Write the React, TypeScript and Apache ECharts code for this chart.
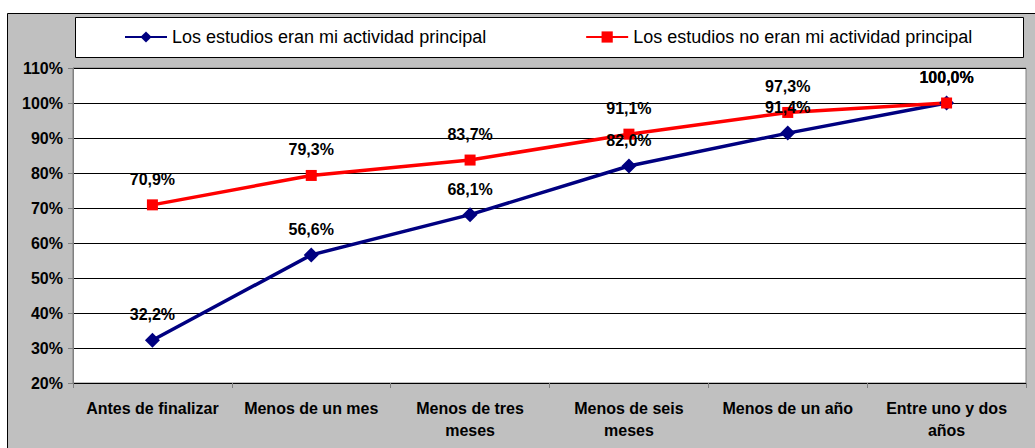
import React, { useEffect, useRef } from "react";
import * as echarts from "echarts";

const categories = [
  "Antes de finalizar",
  "Menos de un mes",
  "Menos de tres\nmeses",
  "Menos de seis\nmeses",
  "Menos de un año",
  "Entre uno y dos\naños",
];
const seriesNames = [
  "Los estudios eran mi actividad principal",
  "Los estudios no eran mi actividad principal",
];
const principal = [32.2, 56.6, 68.1, 82.0, 91.4, 100.0];
const noPrincipal = [70.9, 79.3, 83.7, 91.1, 97.3, 100.0];

const fmt = (v: number) => v.toFixed(1).replace(".", ",") + "%";

export default function App() {
  const ref = useRef<HTMLDivElement>(null);
  useEffect(() => {
    if (!ref.current) return;
    const chart = echarts.init(ref.current, null, { renderer: "svg" });
    const font = "Liberation Sans, Arial, sans-serif";
    const labelStyle = (distance: number) => ({
      show: true,
      position: "top" as const,
      distance,
      color: "#000",
      fontFamily: font,
      fontWeight: "bold" as const,
      fontSize: 16,
      formatter: (p: any) => fmt(p.value),
    });
    chart.setOption({
      animation: false,
      backgroundColor: "#fff",
      graphic: [
        {
          type: "rect",
          z: -10,
          silent: true,
          shape: { x: 7.5, y: 13.5, width: 1040, height: 450 },
          style: { fill: "#C0C0C0", stroke: "#000", lineWidth: 1 },
        },
        {
          type: "rect",
          z: -5,
          silent: true,
          shape: { x: 75.5, y: 17.5, width: 948, height: 40 },
          style: { fill: "#fff", stroke: "#000", lineWidth: 1 },
        },
      ],
      legend: {
        left: 119,
        top: 23,
        itemGap: 99,
        itemWidth: 42,
        itemHeight: 14,
        textStyle: { fontFamily: font, fontSize: 18, color: "#000" },
        data: seriesNames,
      },
      grid: {
        left: 73,
        top: 68,
        right: 9,
        bottom: 65,
        show: true,
        backgroundColor: "#fff",
        borderColor: "#808080",
        borderWidth: 1,
      },
      xAxis: {
        type: "category",
        data: categories,
        boundaryGap: true,
        axisLine: { lineStyle: { color: "#000", width: 1 } },
        axisTick: { show: true, interval: 0, length: 5, lineStyle: { color: "#808080" } },
        axisLabel: {
          interval: 0,
          margin: 14,
          color: "#000",
          fontFamily: font,
          fontWeight: "bold",
          fontSize: 16,
          lineHeight: 22,
        },
      },
      yAxis: {
        type: "value",
        min: 20,
        max: 110,
        interval: 10,
        axisLine: { show: true, lineStyle: { color: "#808080" } },
        axisTick: { show: true, length: 5, lineStyle: { color: "#808080" } },
        axisLabel: {
          formatter: "{value}%",
          margin: 10,
          color: "#000",
          fontFamily: font,
          fontWeight: "bold",
          fontSize: 16,
        },
        splitLine: { lineStyle: { color: "#000", width: 1 } },
      },
      series: [
        {
          name: seriesNames[0],
          type: "line",
          data: principal,
          color: "#000080",
          lineStyle: { width: 3.5, color: "#000080" },
          symbol: "diamond",
          symbolSize: 15,
          itemStyle: { color: "#000080" },
          label: labelStyle(10),
        },
        {
          name: seriesNames[1],
          type: "line",
          data: noPrincipal,
          color: "#FF0000",
          lineStyle: { width: 3.5, color: "#FF0000" },
          symbol: "rect",
          symbolSize: 11,
          itemStyle: { color: "#FF0000" },
          label: labelStyle(12),
        },
      ],
    });
    return () => chart.dispose();
  }, []);
  return (
    <div
      ref={ref}
      style={{ position: "absolute", left: 0, top: 0, width: 1035, height: 448 }}
    />
  );
}
